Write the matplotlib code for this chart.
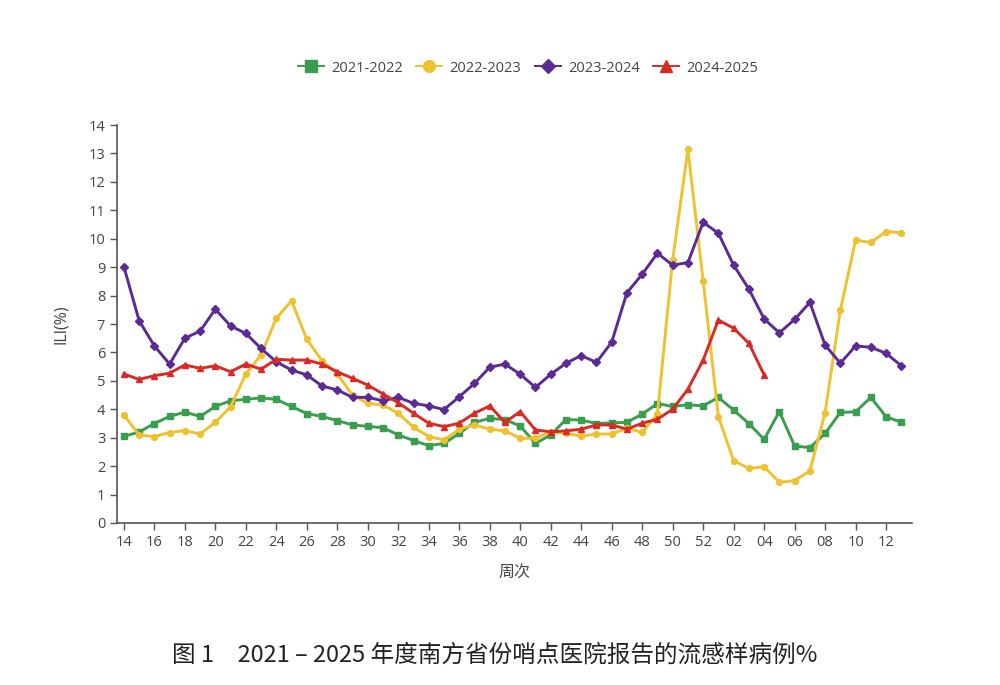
import matplotlib
matplotlib.use("Agg")
import matplotlib.pyplot as plt
import numpy as np

plt.rcParams['font.family'] = ['Open Sans', 'Noto Sans CJK SC', 'DejaVu Sans']

weeks = list(range(14, 53)) + list(range(1, 14))
week_labels = [f"{w:02d}" for w in weeks]

s2122 = [3.05, 3.2, 3.5, 3.75, 3.9, 3.75, 4.1, 4.3, 4.35, 4.4, 4.35, 4.1, 3.85, 3.75, 3.6, 3.45,
         3.4, 3.35, 3.1, 2.9, 2.72, 2.8, 3.15, 3.54, 3.68, 3.64, 3.41, 2.8, 3.1, 3.64, 3.62, 3.5,
         3.52, 3.54, 3.83, 4.2, 4.1, 4.16, 4.12, 4.42, 3.97, 3.5, 2.94, 3.92, 2.71, 2.65, 3.15,
         3.89, 3.91, 4.42, 3.74, 3.54]
s2223 = [3.8, 3.1, 3.04, 3.18, 3.25, 3.13, 3.54, 4.09, 5.24, 5.91, 7.2, 7.82, 6.46, 5.71, 5.24,
         4.5, 4.21, 4.15, 3.86, 3.37, 3.04, 2.92, 3.3, 3.45, 3.3, 3.24, 2.98, 2.98, 3.21, 3.15,
         3.06, 3.13, 3.13, 3.33, 3.19, 3.83, 9.25, 13.14, 8.52, 3.74, 2.19, 1.92, 1.98, 1.43,
         1.49, 1.83, 3.88, 7.49, 9.95, 9.87, 10.25, 10.21]
s2324 = [9.02, 7.12, 6.23, 5.59, 6.5, 6.75, 7.52, 6.93, 6.67, 6.14, 5.67, 5.38, 5.21, 4.82, 4.68,
         4.42, 4.42, 4.3, 4.42, 4.21, 4.12, 3.99, 4.44, 4.91, 5.48, 5.59, 5.23, 4.77, 5.23, 5.62,
         5.89, 5.65, 6.36, 8.1, 8.75, 9.49, 9.07, 9.16, 10.58, 10.19, 9.07, 8.23, 7.18, 6.69,
         7.16, 7.76, 6.26, 5.62, 6.23, 6.18, 5.97, 5.53]
s2425 = [5.24, 5.05, 5.18, 5.27, 5.56, 5.44, 5.53, 5.32, 5.59, 5.41, 5.76, 5.73, 5.73, 5.59, 5.32,
         5.09, 4.85, 4.54, 4.23, 3.86, 3.51, 3.39, 3.51, 3.86, 4.12, 3.54, 3.92, 3.27, 3.21, 3.24,
         3.3, 3.45, 3.45, 3.3, 3.51, 3.65, 4.0, 4.71, 5.73, 7.14, 6.85, 6.32, 5.21]

series = [
    ("2021-2022", s2122, "#3a9e4f", "s", 4.2),
    ("2022-2023", s2223, "#efc12e", "o", 4.2),
    ("2023-2024", s2324, "#5b2a95", "D", 3.6),
    ("2024-2025", s2425, "#d92a26", "^", 4.4),
]

fig = plt.figure(figsize=(10, 6.85), dpi=100)
ax = fig.add_axes([0.117, 0.2365, 0.795, 0.581])

handles = []
for name, vals, col, mk, ms in series:
    x = np.arange(len(vals))
    h, = ax.plot(x, vals, color=col, lw=2.1, marker=mk, ms=ms, mec=col, mfc=col, label=name)
    handles.append(h)

ax.set_xlim(-0.45, 51.7)
ax.set_ylim(0, 14)
ax.set_yticks(range(0, 15))
tick_idx = list(range(0, len(weeks), 2))
ax.set_xticks(tick_idx)
ax.set_xticklabels([week_labels[i] for i in tick_idx])

for sp in ['top', 'right']:
    ax.spines[sp].set_visible(False)
for sp in ['left', 'bottom']:
    ax.spines[sp].set_color('#555555')
    ax.spines[sp].set_linewidth(1.2)
ax.tick_params(axis='both', colors='#555555', labelcolor='#444444', labelsize=10.5,
               length=5, width=1.0, direction='out')

ax.set_xlabel("周次", fontsize=11.5, color='#444444', labelpad=10,
              family=['Noto Sans CJK SC', 'DejaVu Sans'])
ax.set_ylabel("ILI(%)", fontsize=11.5, color='#444444', labelpad=14)

leg_handles = []
for name, vals, col, mk, ms in series:
    lh, = ax.plot([], [], color=col, lw=1.4, marker=mk, ms=ms * 2.0, mec=col, mfc=col, label=name)
    leg_handles.append(lh)

fig.legend(handles=leg_handles, loc='center', bbox_to_anchor=(0.528, 1 - 68 / 685), ncol=4,
           frameon=False, fontsize=10.5, handlelength=1.8, columnspacing=0.9,
           handletextpad=0.5, labelcolor='#444444')

fig.text(0.495, 1 - 655 / 685, "图 1　2021 – 2025 年度南方省份哨点医院报告的流感样病例%",
         ha='center', va='center', fontsize=17, color='#222222',
         family=['Noto Sans CJK SC', 'DejaVu Sans'])

fig.savefig("out.png", dpi=100, facecolor='white')
